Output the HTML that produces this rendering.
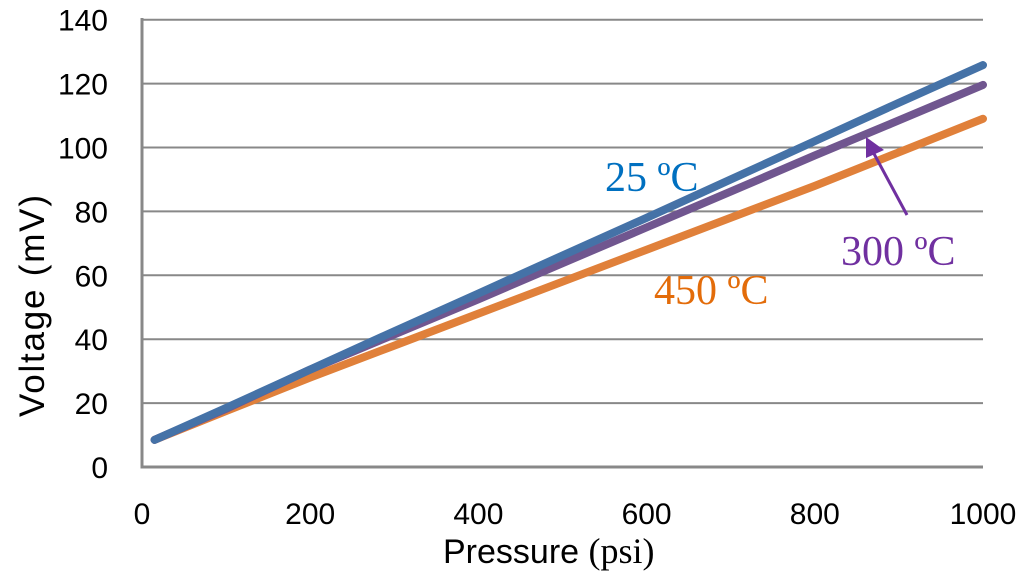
<!DOCTYPE html>
<html><head><meta charset="utf-8"><style>
body{margin:0;background:#fff}
svg{display:block}
.t{font-family:"Liberation Sans",sans-serif;font-size:30px;fill:#000}
</style></head><body>
<svg width="1024" height="588">
<g id="grid"></g><g id="ticks"></g><g id="lines"></g>
<text x="443" y="563" font-family="Liberation Sans,sans-serif" font-size="34">Pressure <tspan font-family="Liberation Serif,serif" font-size="36">(psi)</tspan></text>
<text transform="translate(44,306) rotate(-90)" text-anchor="middle" font-family="Liberation Sans,sans-serif" font-size="35" textLength="222">Voltage (mV)</text>
<text x="605" y="191" font-family="Liberation Serif,serif" font-size="42" fill="#0070C0">25 ºC</text>
<text x="841" y="265" font-family="Liberation Serif,serif" font-size="42" fill="#7030A0">300 ºC</text>
<text x="654" y="304" font-family="Liberation Serif,serif" font-size="42" fill="#E36C0A">450 ºC</text>
<line x1="907" y1="215" x2="872" y2="150" stroke="#7030A0" stroke-width="3"/>
<polygon points="866,137 884,150 866,158" fill="#7030A0"/>
</svg>
<script>
const xs=[15,100,200,300,400,500,600,700,800,900,1000];
const s25=[8.5,18.5,30.5,42.5,54.3,66.2,78,90,102,114,125.8];
const s300=[8.5,18.2,30.5,41.5,52.5,63.8,75,86.2,97.5,108.5,119.6];
const s450=[8.5,17.5,28,38,48,58,68,78,88,98.5,109];
const yTicks=[0,20,40,60,80,100,120,140];
const xTicks=[0,200,400,600,800,1000];
const X=v=>142+v*0.841, Y=v=>467-v*3.195;
const NS="http://www.w3.org/2000/svg";
const g=document.getElementById('grid'),tk=document.getElementById('ticks'),ln=document.getElementById('lines');
function mk(tag,a,p){const e=document.createElementNS(NS,tag);for(const k in a)e.setAttribute(k,a[k]);p.appendChild(e);return e;}
yTicks.forEach(v=>{
 if(v>0){const l=mk('line',{x1:142,x2:983,y1:Y(v),y2:Y(v),stroke:'#888','stroke-width':2},g);
 
 }
 const t=mk('text',{x:108,y:Y(v)+11,'text-anchor':'end',class:'t'},tk);t.textContent=v;
 
 
});
xTicks.forEach(v=>{const t=mk('text',{x:X(v),y:524,'text-anchor':'middle',class:'t'},tk);t.textContent=v;
 
 });
const ax=mk('path',{d:'M142,18V467H983',fill:'none',stroke:'#888','stroke-width':3},g);


[[s450,'#E0803A','series-450c'],[s300,'#70568F','series-300c'],[s25,'#4572A7','series-25c']].forEach(([s,c,n])=>{
 const p=mk('polyline',{points:xs.map((x,i)=>X(x)+','+Y(s[i])).join(' '),fill:'none',stroke:c,'stroke-width':8,'stroke-linecap':'round','stroke-linejoin':'round'},ln);
 
 
});
</script>
</body></html>
